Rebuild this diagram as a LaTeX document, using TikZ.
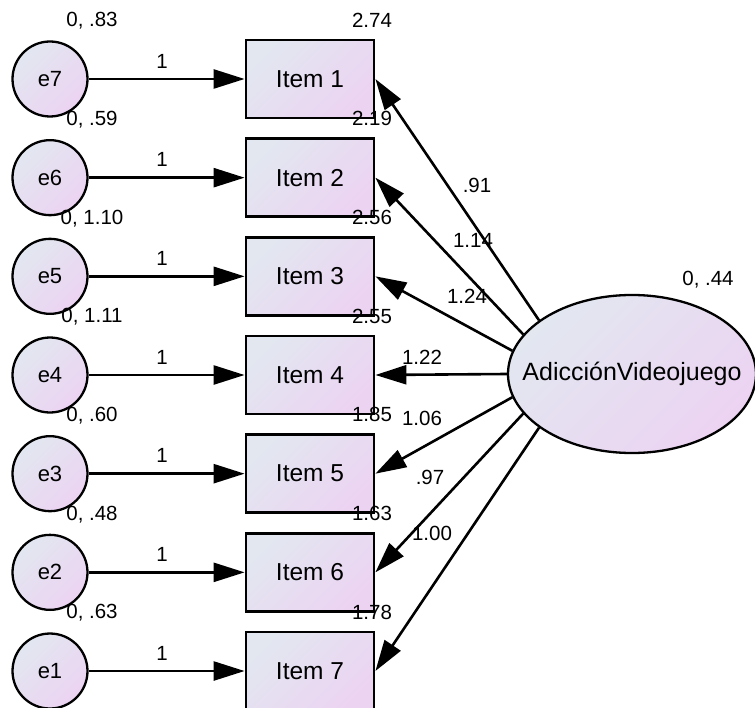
\documentclass[tikz,border=0pt]{standalone}
\usepackage{fontspec}
\setmainfont{Liberation Sans}
\usetikzlibrary{arrows.meta,shapes.geometric}
\definecolor{cA}{RGB}{226,231,240}
\definecolor{cB}{RGB}{236,211,242}
\begin{document}
\begin{tikzpicture}[x=1pt,y=-1pt,
  obs/.style={draw, line width=2.8pt, minimum width=128pt, minimum height=78pt, inner sep=0pt,
    top color=cA, bottom color=cB, shading angle=45, font=\fontsize{24.5}{28}\selectfont},
  err/.style={circle, draw, line width=2.3pt, minimum size=75pt, inner sep=0pt,
    top color=cA, bottom color=cB, shading angle=45, font=\fontsize{22}{25}\selectfont},
  lat/.style={ellipse, draw, line width=2.3pt, minimum width=248pt, minimum height=158pt, inner sep=0pt,
    top color=cA, bottom color=cB, shading angle=45, font=\fontsize{25}{28}\selectfont},
  lbl/.style={font=\fontsize{20.5}{24}\selectfont, inner sep=0pt},
  arr/.style={-{Triangle[length=31pt,width=19pt]}, line width=2.6pt}
]
\useasboundingbox (0,0) rectangle (755,708);
\node[lat] (lv) at (632,374) {\makebox[0pt]{AdicciónVideojuego}};
\node[lbl] (vlv) at (708,280) {0, .44};
\foreach \n/\e/\v/\m/\a [count=\k from 0] in {1/7/{0, .83}/2.74/150, 2/6/{0, .59}/2.19/160, 3/5/{0, 1.10}/2.56/169, 4/4/{0, 1.11}/2.55/180, 5/3/{0, .60}/1.85/191, 6/2/{0, .48}/1.63/200, 7/1/{0, .63}/1.78/210}{
  \pgfmathsetmacro\yy{79+\k*98.67}
  \node[obs] (i\n) at (310,\yy) {Item \n};
  \node[err] (e\e) at (50,\yy) {e\e};
  \node[lbl] (ve\e) at (92,\yy-58) {\v};
  \node[lbl] (mi\n) at (372,\yy-59) {\m};
  \node[lbl] (w\n) at (162,\yy-18) {1};
  \draw[arr] (e\e) -- (i\n);
  \draw[arr] (lv.\a) -- (i\n.east);
}
\node[lbl] (l1) at (477,185) {.91};
\node[lbl] (l2) at (473,240) {1.14};
\node[lbl] (l3) at (467,296) {1.24};
\node[lbl] (l4) at (422,357) {1.22};
\node[lbl] (l5) at (422,418) {1.06};
\node[lbl] (l6) at (430,477) {.97};
\node[lbl] (l7) at (432,533) {1.00};
\end{tikzpicture}
\end{document}
